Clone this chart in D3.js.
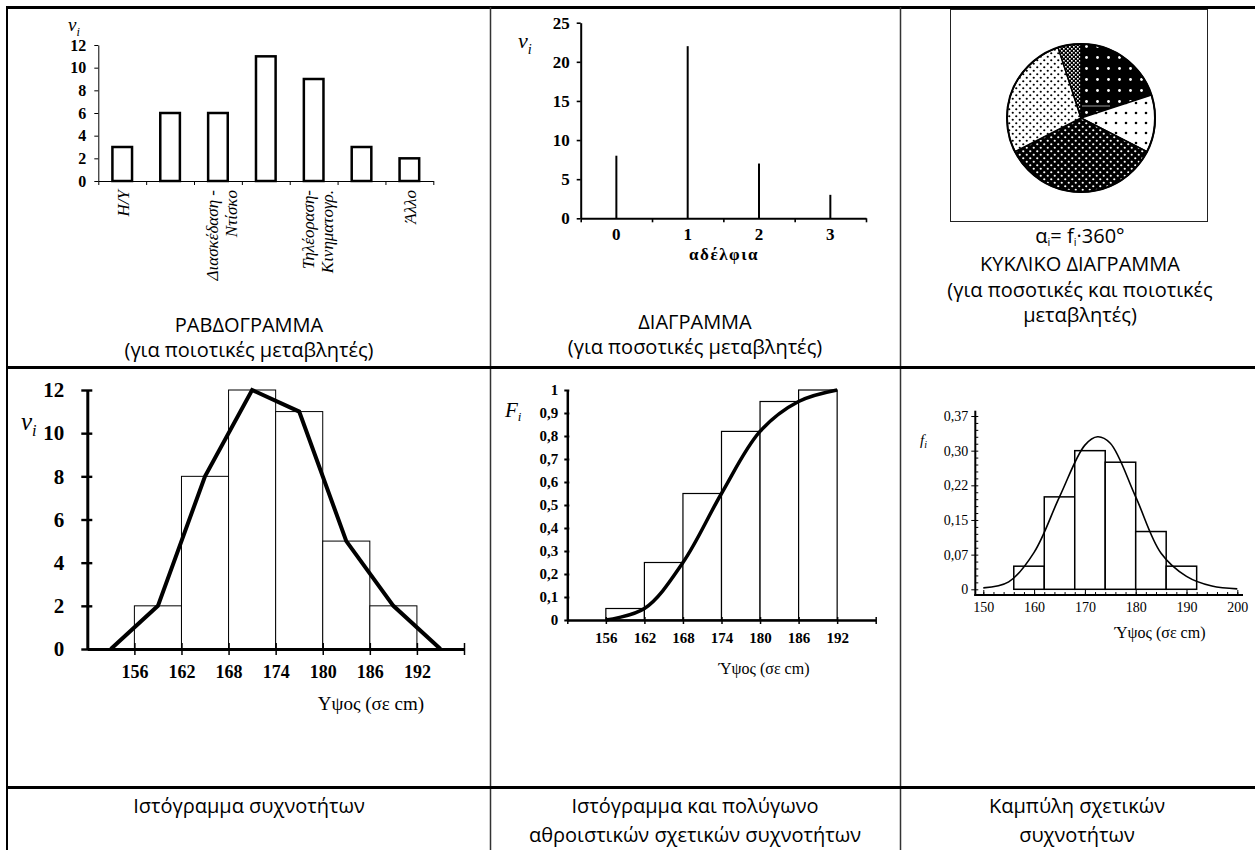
<!DOCTYPE html>
<html>
<head>
<meta charset="utf-8">
<script src="https://cdn.jsdelivr.net/npm/d3@7"></script>
<style>
body { margin: 0; background: #fff; }
svg { display: block; }
</style>
</head>
<body>
<script>
// ---- data ----
var barLabels = ["Η/Υ", "", "Διασκέδαση -|Ντίσκο", "", "Τηλέοραση-|Κινηματογρ.", "", "Άλλο"];
var barValues = [3, 6, 6, 11, 9, 3, 2];
var barTicks = [0, 2, 4, 6, 8, 10, 12];

var siblings = ["0", "1", "2", "3"];
var siblingCounts = [8, 22, 7, 3];
var siblingTicks = [0, 5, 10, 15, 20, 25];

var pieValues = [8, 5, 14, 11, 2];

var classStarts = [156, 162, 168, 174, 180, 186];
var heightTicks = [156, 162, 168, 174, 180, 186, 192];
var counts = [2, 8, 12, 11, 5, 2];
var polyX = [153, 159, 165, 171, 177, 183, 189, 195];
var polyY = [0, 2, 8, 12, 11, 5, 2, 0];

var cumFreq = [0.05, 0.25, 0.55, 0.82, 0.95, 1];
var cumPolyX = [156, 162, 168, 174, 180, 186, 192];
var cumPolyY = [0, 0.05, 0.25, 0.55, 0.82, 0.95, 1];
var cumTicks = [0, 0.1, 0.2, 0.3, 0.4, 0.5, 0.6, 0.7, 0.8, 0.9, 1];
var cumTickLabels = ["0", "0,1", "0,2", "0,3", "0,4", "0,5", "0,6", "0,7", "0,8", "0,9", "1"];

var relFreq = [0.05, 0.2, 0.3, 0.275, 0.125, 0.05];
var curveX = [150, 155, 160, 165, 170, 172.5, 175, 180, 185, 190, 195, 200];
var curveY = [0.003, 0.016, 0.08, 0.2, 0.312, 0.33, 0.316, 0.2, 0.078, 0.028, 0.007, 0.001];
var relTicks = [0, 0.075, 0.15, 0.225, 0.3, 0.375];
var relTickLabels = ["0", "0,07", "0,15", "0,22", "0,30", "0,37"];
var relXTicks = [150, 160, 170, 180, 190, 200];

var serif = "'Liberation Serif', 'Times New Roman', serif";
var sans = "'Open Sans', 'Noto Sans', sans-serif";

var svg = d3.select("body").append("svg")
            .attr("width", 1255)
            .attr("height", 850);

svg.append("rect").attr("width", 1255).attr("height", 850).attr("fill", "#fff");

// pie patterns
var defs = svg.append("defs");
function dotPattern(id, size, bg, fg, r, pts) {
    var p = defs.append("pattern")
                .attr("id", id)
                .attr("patternUnits", "userSpaceOnUse")
                .attr("width", size).attr("height", size);
    p.append("rect").attr("width", size).attr("height", size).attr("fill", bg);
    pts.forEach(function(q) {
        p.append("circle").attr("cx", q[0]).attr("cy", q[1]).attr("r", r).attr("fill", fg);
    });
}
dotPattern("pA", 11, "#000", "#fff", 1.4, [[5.5, 5.5]]);
dotPattern("pB", 10, "#fff", "#000", 1.3, [[5, 5]]);
dotPattern("pC", 7, "#000", "#fff", 1.1, [[1.75, 1.75], [5.25, 5.25]]);
dotPattern("pD", 7, "#fff", "#000", 1.1, [[1.75, 1.75], [5.25, 5.25]]);
var chk = defs.append("pattern").attr("id", "pE").attr("patternUnits", "userSpaceOnUse")
              .attr("width", 4).attr("height", 4);
chk.append("rect").attr("width", 4).attr("height", 4).attr("fill", "#000");
chk.append("rect").attr("width", 1.6).attr("height", 1.6).attr("fill", "#fff");
chk.append("rect").attr("x", 2).attr("y", 2).attr("width", 1.6).attr("height", 1.6).attr("fill", "#fff");
var piePatterns = ["url(#pA)", "url(#pB)", "url(#pC)", "url(#pD)", "url(#pE)"];

// ---- table grid ----
var grid = svg.append("g").attr("stroke", "#000");
grid.append("line").attr("x1", 6).attr("x2", 1255).attr("y1", 7.5).attr("y2", 7.5).attr("stroke-width", 3);
grid.append("line").attr("x1", 7).attr("x2", 7).attr("y1", 6).attr("y2", 850).attr("stroke-width", 2);
grid.append("line").attr("x1", 490.5).attr("x2", 490.5).attr("y1", 7).attr("y2", 850).attr("stroke-width", 1.5).attr("stroke", "#333");
grid.append("line").attr("x1", 900.5).attr("x2", 900.5).attr("y1", 7).attr("y2", 850).attr("stroke-width", 1.5).attr("stroke", "#333");
grid.append("line").attr("x1", 7).attr("x2", 1255).attr("y1", 367.5).attr("y2", 367.5).attr("stroke-width", 3);
grid.append("line").attr("x1", 7).attr("x2", 1255).attr("y1", 787.5).attr("y2", 787.5).attr("stroke-width", 3);

// italic v_i style labels
function symLabel(x, y, size, letter) {
    var t = svg.append("text")
               .attr("x", x).attr("y", y)
               .style("font-family", serif)
               .style("font-style", "italic")
               .style("font-size", size + "px")
               .text(letter);
    t.append("tspan").attr("dy", size * 0.25).style("font-size", (size * 0.65) + "px").text("i");
}

function caption(lines, cx, ys, size) {
    lines.forEach(function(s, i) {
        svg.append("text")
           .attr("x", cx).attr("y", ys[i]).attr("dy", "0.35em")
           .attr("text-anchor", "middle")
           .style("font-family", sans)
           .style("font-size", size + "px")
           .text(s);
    });
}

function styleAxis(g, width, fontSize, bold) {
    g.select(".domain").attr("stroke-width", width);
    g.selectAll(".tick line").attr("stroke-width", Math.max(1, width * 0.8));
    g.selectAll(".tick text")
     .style("font-family", serif)
     .style("font-size", fontSize + "px")
     .style("font-weight", bold ? "bold" : "normal")
     .attr("fill", "#000");
}

// ---- 1. bar chart (qualitative) ----
var x1 = d3.scaleBand().domain(d3.range(barValues.length)).range([98.3, 433.3])
           .paddingInner(0.59).paddingOuter(0.295);
var x1b = d3.scaleLinear().domain([0, barValues.length]).range([98.3, 433.3]);
var y1 = d3.scaleLinear().domain([0, 12]).range([181, 45]);

svg.append("g").selectAll("rect")
   .data(barValues).enter().append("rect")
   .attr("x", function(d, i) { return x1(i); })
   .attr("width", x1.bandwidth())
   .attr("y", function(d) { return y1(d); })
   .attr("height", function(d) { return y1(0) - y1(d); })
   .attr("fill", "#fff").attr("stroke", "#000").attr("stroke-width", 2.5);

var ax1 = svg.append("g").attr("transform", "translate(98.3,0)")
             .call(d3.axisLeft(y1).tickValues(barTicks).tickSize(4).tickSizeOuter(0).tickPadding(8));
styleAxis(ax1, 1, 16, true);
var bx1 = svg.append("g").attr("transform", "translate(0,181)")
             .call(d3.axisBottom(x1b).tickValues(d3.range(barValues.length + 1)).tickFormat("").tickSize(4).tickSizeOuter(0));
styleAxis(bx1, 1, 14, false);

barLabels.forEach(function(lab, i) {
    if (!lab) return;
    var parts = lab.split("|");
    var cx = x1(i) + x1.bandwidth() / 2 + (parts.length > 1 ? 4 : 1);
    parts.forEach(function(s, k) {
        var off = (k - (parts.length - 1) / 2) * 19;
        svg.append("text")
           .attr("transform", "translate(" + (cx + off) + ",190) rotate(-90)")
           .attr("dy", "0.35em")
           .attr("text-anchor", "end")
           .style("font-family", serif)
           .style("font-style", "italic")
           .style("font-size", "17px")
           .text(s);
    });
});
symLabel(68, 31, 19, "v");
caption(["ΡΑΒΔΟΓΡΑΜΜΑ", "(για ποιοτικές μεταβλητές)"], 249, [325, 350], 20);

// ---- 2. line diagram (siblings) ----
var x2 = d3.scaleBand().domain(siblings).range([580.7, 866]);
var x2b = d3.scaleLinear().domain([0, siblings.length]).range([580.7, 866]);
var y2 = d3.scaleLinear().domain([0, 25]).range([218.3, 22.7]);

svg.append("g").selectAll("line")
   .data(siblingCounts).enter().append("line")
   .attr("x1", function(d, i) { return x2(siblings[i]) + x2.bandwidth() / 2; })
   .attr("x2", function(d, i) { return x2(siblings[i]) + x2.bandwidth() / 2; })
   .attr("y1", y2(0))
   .attr("y2", function(d) { return y2(d); })
   .attr("stroke", "#000").attr("stroke-width", 2);

var ax2 = svg.append("g").attr("transform", "translate(580.7,0)")
             .call(d3.axisLeft(y2).tickValues(siblingTicks).tickSize(4).tickSizeOuter(0).tickPadding(7));
styleAxis(ax2, 2, 17, true);
var bx2 = svg.append("g").attr("transform", "translate(0,218.3)")
             .call(d3.axisBottom(x2b).tickValues(d3.range(siblings.length + 1)).tickFormat("").tickSize(4).tickSizeOuter(0));
styleAxis(bx2, 2, 14, false);
svg.append("g").selectAll("text")
   .data(siblings).enter().append("text")
   .attr("x", function(d) { return x2(d) + x2.bandwidth() / 2; })
   .attr("y", 234).attr("dy", "0.35em")
   .attr("text-anchor", "middle")
   .style("font-family", serif).style("font-weight", "bold").style("font-size", "17px")
   .text(function(d) { return d; });
svg.append("text")
   .attr("x", 724).attr("y", 254).attr("dy", "0.35em")
   .attr("text-anchor", "middle")
   .style("font-family", serif).style("font-weight", "bold").style("font-size", "17px")
   .style("letter-spacing", "1.5px")
   .text("αδέλφια");
symLabel(518, 48, 22, "v");
caption(["ΔΙΑΓΡΑΜΜΑ", "(για ποσοτικές μεταβλητές)"], 695, [322, 347], 20);

// ---- 3. pie chart ----
svg.append("rect").attr("x", 950.5).attr("y", 9.5).attr("width", 257).attr("height", 212)
   .attr("fill", "#fff").attr("stroke", "#222").attr("stroke-width", 1);
var pie = d3.pie().sort(null)(pieValues);
var arc = d3.arc().innerRadius(0).outerRadius(74);
var pieG = svg.append("g").attr("transform", "translate(1081,118)");
pieG.selectAll("path")
    .data(pie).enter().append("path")
    .attr("d", arc)
    .attr("fill", function(d, i) { return piePatterns[i]; })
    .attr("stroke", "#000").attr("stroke-width", 1.5);
pieG.append("circle").attr("r", 74).attr("fill", "none").attr("stroke", "#000").attr("stroke-width", 2);
pieG.append("line").attr("x1", 1).attr("x2", 29).attr("y1", -12).attr("y2", -12)
    .attr("stroke", "#999").attr("stroke-width", 1);

var formula = svg.append("text")
                 .attr("x", 1080).attr("y", 236).attr("dy", "0.35em")
                 .attr("text-anchor", "middle")
                 .style("font-family", sans).style("font-size", "20px");
formula.append("tspan").text("α");
formula.append("tspan").attr("dy", 3).style("font-size", "11px").text("i");
formula.append("tspan").attr("dy", -3).text("= f");
formula.append("tspan").attr("dy", 3).style("font-size", "11px").text("i");
formula.append("tspan").attr("dy", -3).text("·360°");
caption(["ΚΥΚΛΙΚΟ ΔΙΑΓΡΑΜΜΑ", "(για ποσοτικές και ποιοτικές", "μεταβλητές)"], 1080, [264, 290, 315], 20);

// ---- 4. frequency histogram + polygon ----
var x3 = d3.scaleLinear().domain([150, 198]).range([87.3, 464]);
var y3 = d3.scaleLinear().domain([0, 12]).range([649, 390]);

svg.append("g").selectAll("rect")
   .data(counts).enter().append("rect")
   .attr("x", function(d, i) { return x3(classStarts[i]); })
   .attr("width", function(d, i) { return x3(classStarts[i] + 6) - x3(classStarts[i]); })
   .attr("y", function(d) { return y3(d); })
   .attr("height", function(d) { return y3(0) - y3(d); })
   .attr("fill", "#fff").attr("stroke", "#000").attr("stroke-width", 1);

svg.append("path")
   .datum(d3.zip(polyX, polyY))
   .attr("d", d3.line().x(function(d) { return x3(d[0]); }).y(function(d) { return y3(d[1]); }))
   .attr("fill", "none").attr("stroke", "#000").attr("stroke-width", 4);

var ax3 = svg.append("g").attr("transform", "translate(87.3,0)")
             .call(d3.axisLeft(y3).tickValues(barTicks).tickSize(6).tickSizeOuter(0).tickPadding(17));
styleAxis(ax3, 3, 21, true);
ax3.selectAll(".tick line").attr("x1", 5);
var bx3 = svg.append("g").attr("transform", "translate(0,649)")
             .call(d3.axisBottom(x3).tickValues(heightTicks.concat([198]))
                   .tickFormat(function(d) { return d <= 192 ? d : ""; })
                   .tickSize(6).tickSizeOuter(0).tickPadding(10));
styleAxis(bx3, 3, 18, true);
bx3.selectAll(".tick line").attr("y1", -6).attr("stroke-width", 1.5);
svg.append("text")
   .attr("x", 424).attr("y", 703).attr("dy", "0.35em")
   .attr("text-anchor", "end")
   .style("font-family", serif).style("font-size", "19px")
   .text("Υψος (σε cm)");
symLabel(21, 430, 25, "v");
caption(["Ιστόγραμμα συχνοτήτων"], 249, [806], 20);

// ---- 5. cumulative relative frequency ----
var x4 = d3.scaleLinear().domain([150, 198]).range([567.3, 875.7]);
var y4 = d3.scaleLinear().domain([0, 1]).range([620, 390]);

svg.append("g").selectAll("rect")
   .data(cumFreq).enter().append("rect")
   .attr("x", function(d, i) { return x4(classStarts[i]); })
   .attr("width", function(d, i) { return x4(classStarts[i] + 6) - x4(classStarts[i]); })
   .attr("y", function(d) { return y4(d); })
   .attr("height", function(d) { return y4(0) - y4(d); })
   .attr("fill", "#fff").attr("stroke", "#000").attr("stroke-width", 1.2);

svg.append("path")
   .datum(d3.zip(cumPolyX, cumPolyY))
   .attr("d", d3.line().curve(d3.curveCatmullRom.alpha(0.5))
                 .x(function(d) { return x4(d[0]); }).y(function(d) { return y4(d[1]); }))
   .attr("fill", "none").attr("stroke", "#000").attr("stroke-width", 3.5);

var ax4 = svg.append("g").attr("transform", "translate(567.3,0)")
             .call(d3.axisLeft(y4).tickValues(cumTicks)
                   .tickFormat(function(d, i) { return cumTickLabels[i]; })
                   .tickSize(3).tickSizeOuter(0).tickPadding(6));
styleAxis(ax4, 2.5, 15, true);
ax4.selectAll(".tick line").attr("x1", 2);
var bx4 = svg.append("g").attr("transform", "translate(0,620)")
             .call(d3.axisBottom(x4).tickValues(heightTicks.concat([150, 198]))
                   .tickFormat(function(d) { return (d >= 156 && d <= 192) ? d : ""; })
                   .tickSize(4).tickSizeOuter(0).tickPadding(8));
styleAxis(bx4, 2.5, 15, true);
bx4.selectAll(".tick line").attr("y1", -3).attr("stroke-width", 1.5);
svg.append("text")
   .attr("x", 764).attr("y", 668).attr("dy", "0.35em")
   .attr("text-anchor", "middle")
   .style("font-family", serif).style("font-size", "16px")
   .text("Ύψος (σε cm)");
svg.append("text")
   .attr("x", 505).attr("y", 417)
   .style("font-family", serif).style("font-style", "italic").style("font-size", "21px")
   .text("F")
   .append("tspan").attr("dy", 4).style("font-size", "13px").text("i");
caption(["Ιστόγραμμα  και πολύγωνο", "αθροιστικών σχετικών συχνοτήτων"], 695, [806, 835], 20);

// ---- 6. relative frequency curve ----
var x5 = d3.scaleLinear().domain([150, 200]).range([983.3, 1237.3]);
var y5 = d3.scaleLinear().domain([0, 0.375]).range([589.3, 416]);

svg.append("g").selectAll("rect")
   .data(relFreq).enter().append("rect")
   .attr("x", function(d, i) { return x5(classStarts[i]); })
   .attr("width", function(d, i) { return x5(classStarts[i] + 6) - x5(classStarts[i]); })
   .attr("y", function(d) { return y5(d); })
   .attr("height", function(d) { return y5(0) - y5(d); })
   .attr("fill", "#fff").attr("stroke", "#000").attr("stroke-width", 1.5);

svg.append("path")
   .datum(d3.zip(curveX, curveY))
   .attr("d", d3.line().curve(d3.curveCatmullRom.alpha(0.5))
                 .x(function(d) { return x5(d[0]); }).y(function(d) { return y5(d[1]); }))
   .attr("fill", "none").attr("stroke", "#000").attr("stroke-width", 1.6);

var ax5 = svg.append("g").attr("transform", "translate(975.3,0)")
             .call(d3.axisLeft(y5).tickValues(relTicks)
                   .tickFormat(function(d, i) { return relTickLabels[i]; })
                   .tickSize(4).tickSizeOuter(0).tickPadding(3));
styleAxis(ax5, 1, 14, false);
ax5.select(".domain").remove();
var mx5 = svg.append("g").attr("transform", "translate(975.3,0)")
             .call(d3.axisRight(y5).tickValues(d3.range(0, 0.376, 0.015)).tickFormat("").tickSize(3).tickSizeOuter(0));
mx5.select(".domain").remove();
var bx5 = svg.append("g").attr("transform", "translate(0,595)")
             .call(d3.axisBottom(x5).tickValues(relXTicks).tickSize(-5).tickSizeOuter(0).tickPadding(7));
styleAxis(bx5, 1, 14, false);
bx5.select(".domain").remove();
var mb5 = svg.append("g").attr("transform", "translate(0,595)")
             .call(d3.axisBottom(x5).tickValues(d3.range(150, 201, 2)).tickFormat("").tickSize(-3).tickSizeOuter(0));
mb5.select(".domain").remove();
svg.append("line").attr("x1", 975.3).attr("x2", 975.3).attr("y1", 410.7).attr("y2", 596)
   .attr("stroke", "#000").attr("stroke-width", 2);
svg.append("line").attr("x1", 974.3).attr("x2", 1243).attr("y1", 595).attr("y2", 595)
   .attr("stroke", "#000").attr("stroke-width", 2);
svg.append("text")
   .attr("x", 1160).attr("y", 632).attr("dy", "0.35em")
   .attr("text-anchor", "middle")
   .style("font-family", serif).style("font-size", "16px")
   .text("Ύψος (σε cm)");
svg.append("text")
   .attr("x", 920).attr("y", 445)
   .style("font-family", serif).style("font-style", "italic").style("font-size", "15px")
   .text("f")
   .append("tspan").attr("dy", 3).style("font-size", "10px").text("i");
caption(["Καμπύλη σχετικών", "συχνοτήτων"], 1077, [806, 835], 20);
</script>
</body>
</html>
